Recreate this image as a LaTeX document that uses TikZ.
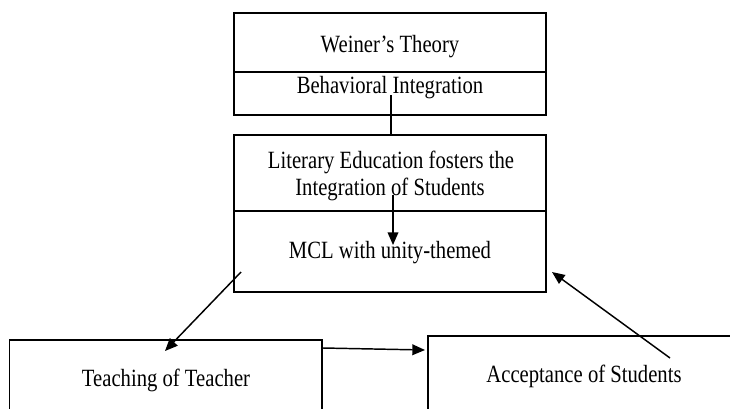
\documentclass[tikz,border=0pt]{standalone}
\usepackage{graphicx}
\usepackage{fontspec}
\setmainfont{Liberation Serif}
\usetikzlibrary{arrows.meta}
% slightly tall lettering
\newcommand\tallt[1]{\scalebox{1}[1.2]{#1}}
\begin{document}
\begin{tikzpicture}[x=0.75pt,y=-0.75pt,
  box/.style={draw, line width=1.1pt, inner sep=0pt, outer sep=0pt, anchor=north west},
  lbl/.style={anchor=base, inner sep=0pt, font=\fontsize{15.5}{18}\selectfont},
  plain/.style={line width=1.1pt},
  arr/.style={line width=1.1pt, -{Triangle[length=9.5pt,width=8pt]}}]
\useasboundingbox (0,0) rectangle (730,408);
\clip (0,0) rectangle (730,408);

% framework boxes
\node[box, minimum width=234pt, minimum height=44.25pt] (weiner) at (234,13) {};
\node[box, minimum width=234pt, minimum height=32.25pt] (behav) at (234,72) {};
\node[box, minimum width=234pt, minimum height=57pt] (lit) at (234,135) {};
\node[box, minimum width=234pt, minimum height=60.75pt] (mcl) at (234,211) {};
\node[box, minimum width=234.4pt, minimum height=60pt] (teach) at (9.5,340) {};
\node[box, minimum width=240pt, minimum height=63pt] (accept) at (428,336) {};

% labels
\node[lbl] (tWeiner) at (390,52) {\tallt{Weiner’s Theory}};
\node[lbl] (tBehav) at (390,93) {\tallt{Behavioral Integration}};
\node[lbl] (tLit1) at (391,168) {\tallt{Literary Education fosters the}};
\node[lbl] (tLit2) at (390,195) {\tallt{Integration of Students}};
\node[lbl] (tMcl) at (390,258) {\tallt{MCL with unity-themed}};
\node[lbl] (tTeach) at (166,386) {\tallt{Teaching of Teacher}};
\node[lbl] (tAccept) at (584,382) {\tallt{Acceptance of Students}};

% connector ends
\coordinate (b0) at (391,95);
\coordinate (l0) at (393,195);
\coordinate (l1) at (393,245);
\coordinate (m0) at (241,272);
\coordinate (t1) at (165,351);
\coordinate (h0) at (323,348);
\coordinate (h1) at (425,350);
\coordinate (a0) at (670,358);
\coordinate (m1) at (552,272);

% connectors
\draw[plain] (b0) -- (b0 |- lit.north);
\draw[arr] (l0) -- (l1);
\draw[arr] (m0) -- (t1);
\draw[arr] (h0) -- (h1);
\draw[arr] (a0) -- (m1);
\end{tikzpicture}
\end{document}
